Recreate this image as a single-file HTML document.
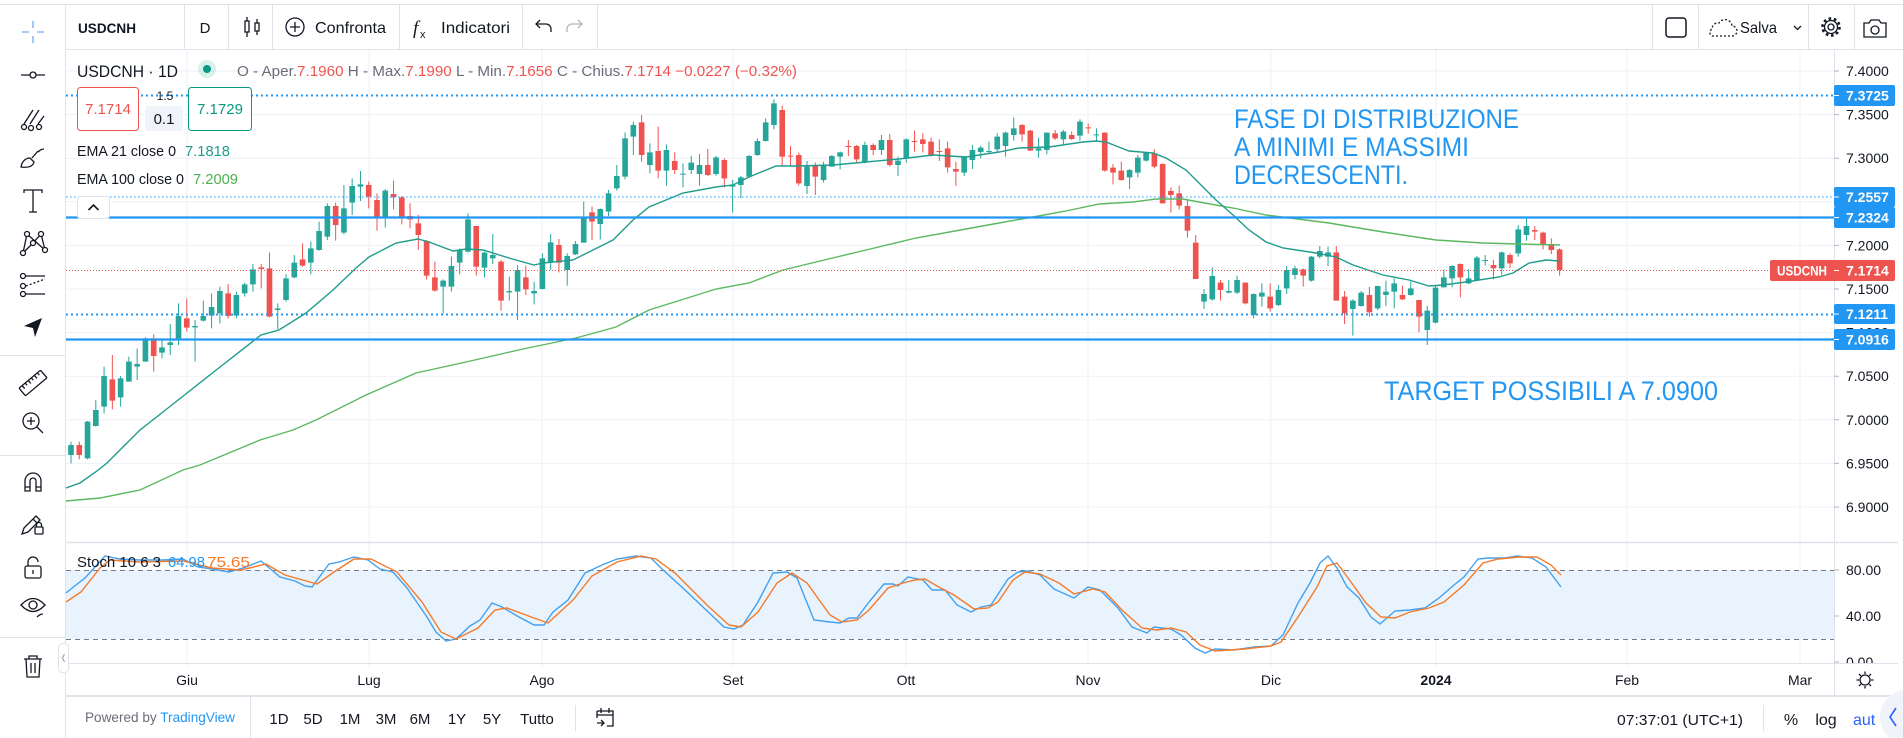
<!DOCTYPE html>
<html><head><meta charset="utf-8"><style>
html,body{margin:0;padding:0;background:#fff;overflow:hidden}
svg{display:block}
text{font-family:"Liberation Sans",sans-serif}
</style></head><body>
<svg width="1903" height="738" viewBox="0 0 1903 738" xmlns="http://www.w3.org/2000/svg">
<defs>
<clipPath id="mp"><rect x="66" y="50" width="1768" height="492"/></clipPath>
<clipPath id="sp"><rect x="66" y="543" width="1768" height="120"/></clipPath>
<clipPath id="sa"><rect x="1835" y="543" width="68" height="120"/></clipPath>
</defs>
<rect width="1903" height="738" fill="#fff"/>

<!-- stoch band -->
<rect x="66" y="570" width="1768" height="69" fill="#e8f3fd"/>

<!-- grid -->
<g stroke="#eef1f7" stroke-width="1" fill="none">
<path d="M66 71H1834M66 114.6H1834M66 158.2H1834M66 201.8H1834M66 245.4H1834M66 289H1834M66 332.6H1834M66 376.2H1834M66 419.8H1834M66 463.4H1834M66 507H1834M66 616.5H1834"/>
<path d="M187 50V667M369 50V667M542 50V667M733 50V667M906 50V667M1088 50V667M1271 50V667M1436 50V667M1627 50V667M1800 50V667"/>
</g>

<!-- stoch dashed levels -->
<path d="M66 570.5H1834M66 639.5H1834" stroke="#787b86" stroke-width="1" stroke-dasharray="5 4" fill="none"/>

<!-- candles -->
<g clip-path="url(#mp)">
<g transform="translate(71,90) scale(8.27,0.333333)">
<path fill="#26a69a" d="M-.34 1065h.68V1095h-.68zM1.66 995h.68V1105h-.68zM2.66 960h.68V1008h-.68zM3.66 858h.68V950h-.68zM5.66 865h.68V922h-.68zM6.66 815h.68V875h-.68zM7.66 822h.68V830h-.68zM8.66 745h.68V815h-.68zM10.66 772h.68V788h-.68zM11.66 757h.68V765h-.68zM12.66 678h.68V745h-.68zM14.66 708h.68V712h-.68zM15.66 678h.68V692h-.68zM16.66 651h.68V677h-.68zM17.66 603h.68V670h-.68zM19.66 615h.68V677h-.68zM20.66 583h.68V610h-.68zM21.66 538h.68V583h-.68zM24.66 655h.68V660h-.68zM25.66 565h.68V630h-.68zM26.66 518h.68V562h-.68zM28.66 475h.68V518h-.68zM29.66 423h.68V480h-.68zM30.66 348h.68V440h-.68zM32.66 355h.68V428h-.68zM33.66 288h.68V338h-.68zM34.66 283h.68V290h-.68zM37.66 302h.68V385h-.68zM44.66 572h.68V590h-.68zM45.66 528h.68V590h-.68zM46.66 480h.68V518h-.68zM47.66 388h.68V485h-.68zM49.66 488h.68V533h-.68zM50.66 495h.68V505h-.68zM52.66 603h.68V607h-.68zM53.66 540h.68V605h-.68zM55.66 603h.68V610h-.68zM56.66 505h.68V597h-.68zM57.66 457h.68V518h-.68zM59.66 498h.68V540h-.68zM60.66 462h.68V493h-.68zM61.66 380h.68V458h-.68zM63.66 357h.68V402h-.68zM64.66 310h.68V365h-.68zM65.66 258h.68V295h-.68zM66.66 145h.68V260h-.68zM67.66 105h.68V140h-.68zM69.66 187h.68V225h-.68zM71.66 180h.68V242h-.68zM73.66 251h.68V254h-.68zM74.66 218h.68V240h-.68zM75.66 225h.68V252h-.68zM77.66 202h.68V252h-.68zM79.66 285h.68V290h-.68zM80.66 262h.68V285h-.68zM81.66 198h.68V260h-.68zM82.66 153h.68V195h-.68zM83.66 97h.68V153h-.68zM84.66 40h.68V105h-.68zM88.66 230h.68V288h-.68zM90.66 228h.68V270h-.68zM91.66 198h.68V230h-.68zM92.66 187h.68V200h-.68zM95.66 165h.68V215h-.68zM97.66 150h.68V180h-.68zM99.66 212h.68V225h-.68zM100.66 148h.68V205h-.68zM107.66 202h.68V248h-.68zM108.66 180h.68V210h-.68zM109.66 173h.68V186h-.68zM110.66 183h.68V186h-.68zM111.66 140h.68V178h-.68zM112.66 128h.68V168h-.68zM113.66 115h.68V135h-.68zM116.66 175h.68V182h-.68zM117.66 128h.68V180h-.68zM119.66 125h.68V148h-.68zM121.66 95h.68V137h-.68zM123.66 133h.68V136h-.68zM127.66 240h.68V262h-.68zM128.66 203h.68V248h-.68zM129.66 187h.68V212h-.68zM136.66 612h.68V635h-.68zM137.66 558h.68V628h-.68zM139.66 603h.68V608h-.68zM140.66 570h.68V608h-.68zM142.66 612h.68V675h-.68zM143.66 608h.68V620h-.68zM145.66 600h.68V645h-.68zM146.66 540h.68V595h-.68zM147.66 535h.68V555h-.68zM149.66 500h.68V572h-.68zM150.66 483h.68V500h-.68zM151.66 487h.68V500h-.68zM154.66 632h.68V657h-.68zM155.66 608h.68V648h-.68zM157.66 588h.68V655h-.68zM158.66 605h.68V615h-.68zM159.66 580h.68V605h-.68zM161.66 595h.68V615h-.68zM163.66 662h.68V720h-.68zM164.66 593h.68V698h-.68zM165.66 562h.68V592h-.68zM166.66 528h.68V565h-.68zM168.66 565h.68V580h-.68zM169.66 503h.68V570h-.68zM170.66 510h.68V513h-.68zM172.66 487h.68V535h-.68zM174.66 418h.68V490h-.68zM175.66 408h.68V435h-.68z"/>
<path fill="none" stroke="#26a69a" stroke-width="1" vector-effect="non-scaling-stroke" d="M0 1055V1120M2 993V1108M3 930V1010M4 830V970M6 858V950M7 800V875M8 775V870M9 742V815M11 748V805M12 702V795M13 640V765M15 690V815M16 632V695M17 610V715M18 590V700M20 605V685M21 578V620M22 522V605M25 640V718M26 552V635M27 495V565M29 455V553M30 395V482M31 340V450M33 285V433M34 265V375M35 243V333M38 297V413M45 568V670M46 500V605M47 475V553M48 370V487M50 485V562M51 432V522M53 560V632M54 525V690M56 575V643M57 490V598M58 432V540M60 490V587M61 453V495M62 335V458M64 355V448M65 300V378M66 225V302M67 127V268M68 95V195M70 160V250M72 163V287M74 220V292M75 198V252M76 192V287M78 198V257M80 270V368M81 258V325M82 195V263M83 145V198M84 85V155M85 28V118M89 213V312M91 215V278M92 195V230M93 185V238M96 155V220M98 135V195M100 200V258M101 145V218M108 198V258M109 165V237M110 167V205M111 155V190M112 130V185M113 125V200M114 82V152M117 143V203M118 127V193M120 120V165M122 88V152M124 115V152M128 237V297M129 195V262M130 185V215M137 597V657M138 532V632M140 570V610M141 557V612M143 610V685M144 580V650M146 585V648M147 528V612M148 527V568M150 498V575M151 468V505M152 470V528M155 628V737M156 603V650M158 587V660M159 572V648M160 565V655M162 575V617M164 648V765M165 588V700M166 538V592M167 525V592M169 538V582M170 498V572M171 495V527M173 485V555M175 405V500M176 382V452"/>
<path fill="#ef5350" d="M.66 1065h.68V1095h-.68zM4.66 868h.68V932h-.68zM9.66 745h.68V798h-.68zM13.66 685h.68V713h-.68zM18.66 610h.68V678h-.68zM22.66 532h.68V537h-.68zM23.66 535h.68V680h-.68zM27.66 508h.68V527h-.68zM31.66 348h.68V405h-.68zM35.66 285h.68V320h-.68zM36.66 330h.68V383h-.68zM38.66 312h.68V322h-.68zM39.66 322h.68V383h-.68zM40.66 378h.68V388h-.68zM41.66 400h.68V435h-.68zM42.66 453h.68V557h-.68zM43.66 562h.68V602h-.68zM48.66 408h.68V530h-.68zM51.66 515h.68V632h-.68zM54.66 562h.68V598h-.68zM58.66 465h.68V518h-.68zM62.66 367h.68V395h-.68zM68.66 97h.68V195h-.68zM70.66 183h.68V242h-.68zM72.66 213h.68V240h-.68zM76.66 225h.68V255h-.68zM78.66 210h.68V265h-.68zM85.66 60h.68V200h-.68zM86.66 197h.68V200h-.68zM87.66 195h.68V280h-.68zM89.66 225h.68V260h-.68zM93.66 168h.68V171h-.68zM94.66 168h.68V208h-.68zM96.66 165h.68V180h-.68zM98.66 150h.68V225h-.68zM101.66 153h.68V156h-.68zM102.66 148h.68V162h-.68zM103.66 155h.68V197h-.68zM104.66 183h.68V186h-.68zM105.66 175h.68V232h-.68zM106.66 237h.68V245h-.68zM114.66 105h.68V133h-.68zM115.66 122h.68V182h-.68zM118.66 130h.68V145h-.68zM120.66 135h.68V147h-.68zM122.66 112h.68V115h-.68zM124.66 128h.68V242h-.68zM125.66 233h.68V248h-.68zM126.66 242h.68V270h-.68zM130.66 190h.68V230h-.68zM131.66 222h.68V340h-.68zM132.66 303h.68V315h-.68zM133.66 310h.68V347h-.68zM134.66 348h.68V422h-.68zM135.66 458h.68V567h-.68zM138.66 578h.68V600h-.68zM141.66 578h.68V640h-.68zM144.66 620h.68V655h-.68zM148.66 538h.68V557h-.68zM152.66 487h.68V632h-.68zM153.66 620h.68V670h-.68zM156.66 615h.68V667h-.68zM160.66 615h.68V628h-.68zM162.66 630h.68V680h-.68zM167.66 522h.68V562h-.68zM171.66 525h.68V535h-.68zM173.66 495h.68V520h-.68zM176.66 420h.68V425h-.68zM177.66 428h.68V462h-.68zM178.66 462h.68V480h-.68zM179.66 478h.68V540h-.68z"/>
<path fill="none" stroke="#ef5350" stroke-width="1" vector-effect="non-scaling-stroke" d="M1 1055V1108M5 795V958M10 733V845M14 625V725M19 582V686M23 522V595M24 487V682M28 460V530M32 338V452M36 275V355M37 310V422M39 272V358M40 318V403M41 340V415M42 375V480M43 450V568M44 515V605M49 408V557M52 510V662M55 527V615M59 447V547M63 350V450M69 75V215M71 110V265M73 187V252M77 177V258M79 205V292M86 47V228M87 168V228M88 188V287M90 218V315M94 150V198M95 165V220M97 160V195M99 132V230M102 122V185M103 130V187M104 143V200M105 148V213M106 155V248M107 215V288M115 102V155M116 120V183M119 120V150M121 125V150M123 100V130M125 127V245M126 222V283M127 215V272M131 178V235M132 220V340M133 292V368M134 287V358M135 330V443M136 435V567M139 570V632M142 577V643M145 580V665M149 535V590M153 468V632M154 603V702M157 590V680M161 587V630M163 630V727M168 520V622M172 510V568M174 490V535M177 408V450M178 425V478M179 445V492M180 475V557"/>
</g>

<!-- EMAs -->
<polyline fill="none" stroke="#5cb860" stroke-width="1.4" points="66,501 100,498 140,490 183,470 200,465 260,440 293,430 316,420 366,395 416,373 466,362 523,349 576,338 616,327 649,310 716,289 749,283 783,270 816,262 866,250 916,238 966,229 999,223 1033,217 1066,211 1099,204 1133,202 1156,199 1183,199 1199,202 1233,208 1266,215 1329,223 1383,232 1436,240 1483,243 1519,244 1560,245"/>
<polyline fill="none" stroke="#1f9c8c" stroke-width="1.4" points="66,488 80,483 97,471 107,463 140,430 149,423 187,393 220,367 261,335 279,330 306,313 333,290 356,268 369,257 396,243 418,239 429,242 453,251 466,249 483,250 509,258 534,265 543,263 573,260 593,250 613,240 633,220 649,207 683,193 716,187 733,185 749,177 776,166 799,166 833,165 866,162 899,159 933,155 966,157 999,152 1019,148 1049,147 1083,142 1096,141 1106,142 1129,151 1153,153 1166,158 1186,170 1199,183 1216,200 1233,215 1249,230 1266,242 1283,248 1316,253 1336,257 1353,265 1383,275 1409,280 1429,286 1443,285 1466,282 1499,277 1513,273 1529,263 1546,260 1560,261"/>

<!-- horizontal drawings -->
<path d="M66 270.5H1834" stroke="#ef5350" stroke-width="1" stroke-dasharray="1 2" fill="none"/>
<path d="M66 95.5H1834M66 314.5H1834" stroke="#2196f3" stroke-width="2" stroke-dasharray="2 3" fill="none"/>
<path d="M66 197H1834" stroke="#2196f3" stroke-width="1" stroke-dasharray="1.5 2.5" fill="none"/>
<path d="M66 217.5H1834M66 339.5H1834" stroke="#2196f3" stroke-width="2.2" fill="none"/>
</g>

<!-- annotations -->
<g fill="#2196f3" font-size="27">
<text x="1234" y="128" textLength="285" lengthAdjust="spacingAndGlyphs">FASE DI DISTRIBUZIONE</text>
<text x="1234" y="156" textLength="235" lengthAdjust="spacingAndGlyphs">A MINIMI E MASSIMI</text>
<text x="1234" y="184" textLength="174" lengthAdjust="spacingAndGlyphs">DECRESCENTI.</text>
<text x="1384" y="400" textLength="334" lengthAdjust="spacingAndGlyphs">TARGET POSSIBILI A 7.0900</text>
</g>

<!-- stoch lines -->
<g clip-path="url(#sp)" fill="none" stroke-width="1.4">
<polyline stroke="#42a0ee" points="66,593 76,585 85,578 105,556 120,559 139,560 163,560 183,559 198,567 212,569 229,572 246,567 261,561 280,577 295,581 305,586 312,587 329,564 339,562 354,557 368,560 380,569 393,572 407,588 427,617 436,632 446,641 456,639 470,626 480,620 492,603 502,607 519,617 534,625 544,625 553,612 568,600 585,573 602,565 617,559 636,556 651,558 661,568 685,590 704,608 724,627 734,629 743,625 758,602 773,573 787,572 797,578 814,620 830,622 840,623 849,618 857,618 869,602 884,584 893,584 898,586 908,577 923,580 932,590 945,590 957,605 971,612 981,607 991,605 1008,579 1018,572 1027,571 1040,575 1054,589 1074,598 1088,587 1100,590 1118,608 1132,627 1147,633 1154,627 1171,629 1181,635 1195,648 1205,653 1215,649 1234,650 1254,647 1271,646 1283,635 1298,603 1310,583 1320,563 1328,556 1337,568 1347,587 1359,598 1371,617 1380,624 1395,611 1410,610 1425,608 1439,598 1454,585 1464,577 1478,559 1488,558 1505,558 1517,556 1532,558 1546,567 1561,587"/>
<polyline stroke="#f57a2a" points="66,602 81,592 100,568 110,560 139,562 183,561 212,568 241,570 266,564 285,575 317,584 334,572 354,559 371,559 397,572 422,602 441,632 456,639 478,628 495,610 507,608 534,618 548,623 573,600 592,576 617,562 641,556 656,559 675,573 709,607 729,625 741,627 758,612 777,583 792,573 807,583 830,615 842,622 857,620 869,610 888,588 903,583 915,580 925,579 937,586 954,595 974,609 988,608 998,602 1013,580 1025,572 1040,574 1059,583 1074,594 1093,589 1105,592 1122,610 1142,628 1157,630 1171,628 1186,632 1200,645 1215,651 1244,649 1271,646 1281,642 1298,617 1317,587 1327,566 1337,563 1351,582 1366,603 1381,617 1395,618 1410,612 1429,608 1444,602 1464,585 1483,563 1498,559 1520,557 1537,557 1551,565 1561,575"/>
</g>

<!-- stoch legend -->
<text x="77" y="567" font-size="15" fill="#131722" textLength="84" lengthAdjust="spacingAndGlyphs">Stoch 10 6 3</text>
<text x="168" y="567" font-size="15" fill="#2196f3" textLength="37" lengthAdjust="spacingAndGlyphs">64.98</text>
<text x="207" y="567" font-size="15" fill="#f57a2a" textLength="43" lengthAdjust="spacingAndGlyphs">75.65</text>

<!-- frame lines -->
<g stroke="#e0e3eb" fill="none">
<path d="M0 4.5H1903" stroke-width="1"/>
<path d="M65.5 4V738" stroke-width="1"/>
<path d="M66 49.5H1903" stroke-width="1"/>
<path d="M184.5 5V49M228.5 5V49M272.5 5V49M399.5 5V49M522.5 5V49M597.5 5V49M1652.5 5V49M1698.5 5V49M1808.5 5V49M1854.5 5V49" stroke-width="1"/>
<path d="M1834.5 50V695" stroke-width="1"/>
<path d="M66 542.5H1898" stroke-width="1.5"/>
<path d="M66 663.5H1898" stroke-width="1"/>
<path d="M66 696H1903" stroke-width="2"/>
<path d="M0 355.5H65M0 455.5H65M0 637.5H65" stroke-width="1"/>
<path d="M250.5 697V738M575.5 705V731M1763.5 705V731" stroke-width="1"/>
</g>

<!-- price axis -->
<path d="M1834 71h5M1834 114.6h5M1834 158.2h5M1834 201.8h5M1834 245.4h5M1834 289h5M1834 332.6h5M1834 376.2h5M1834 419.8h5M1834 463.4h5M1834 507h5M1834 570h5M1834 616h5M1834 662h5" stroke="#b2b5be" stroke-width="1"/>
<g font-size="14" fill="#131722">
<text x="1846" y="76">7.4000</text>
<text x="1846" y="119.6">7.3500</text>
<text x="1846" y="163.2">7.3000</text>
<text x="1846" y="206.8">7.2500</text>
<text x="1846" y="250.4">7.2000</text>
<text x="1846" y="294">7.1500</text>
<text x="1846" y="337.6">7.1000</text>
<text x="1846" y="381.2">7.0500</text>
<text x="1846" y="424.8">7.0000</text>
<text x="1846" y="468.4">6.9500</text>
<text x="1846" y="512">6.9000</text>
<text x="1846" y="575">80.00</text>
<text x="1846" y="621">40.00</text>
<g clip-path="url(#sa)"><text x="1846" y="667">0.00</text></g>
</g>
<!-- axis labels -->
<g fill="#2196f3">
<rect x="1834" y="85" width="61" height="21" rx="2"/>
<rect x="1834" y="187" width="61" height="20" rx="2"/>
<rect x="1834" y="207" width="61" height="21" rx="2"/>
<rect x="1834" y="304" width="61" height="20" rx="2"/>
<rect x="1834" y="329" width="61" height="21" rx="2"/>
</g>
<rect x="1770" y="260" width="125" height="21" rx="2" fill="#ef5350"/>
<path d="M1834 95.5h5M1834 197h5M1834 217.5h5M1834 314h5M1834 339.5h5M1834 270.5h5" stroke="#fff" stroke-width="1"/>
<g font-size="14" font-weight="bold" fill="#fff">
<text x="1846" y="100.5">7.3725</text>
<text x="1846" y="202">7.2557</text>
<text x="1846" y="222.5">7.2324</text>
<text x="1846" y="319">7.1211</text>
<text x="1846" y="344.5">7.0916</text>
<text x="1846" y="275.5">7.1714</text>
<text x="1777" y="275.5" textLength="50" lengthAdjust="spacingAndGlyphs">USDCNH</text>
</g>

<!-- time axis -->
<g font-size="14" fill="#131722" text-anchor="middle">
<text x="187" y="685">Giu</text>
<text x="369" y="685">Lug</text>
<text x="542" y="685">Ago</text>
<text x="733" y="685">Set</text>
<text x="906" y="685">Ott</text>
<text x="1088" y="685">Nov</text>
<text x="1271" y="685">Dic</text>
<text x="1436" y="685" font-weight="bold">2024</text>
<text x="1627" y="685">Feb</text>
<text x="1800" y="685">Mar</text>
</g>
<!-- time axis settings icon -->
<g stroke="#131722" stroke-width="1.3" fill="none">
<circle cx="1865" cy="680" r="5"/>
<path d="M1865 671.5v2.5M1865 686v2.5M1856.5 680h2.5M1871 680h2.5M1859 674l1.8 1.8M1869.2 684.2l1.8 1.8M1871 674l-1.8 1.8M1860.8 684.2l-1.8 1.8"/>
</g>

<!-- legend -->
<text x="77" y="77" font-size="17" fill="#131722" textLength="101" lengthAdjust="spacingAndGlyphs">USDCNH · 1D</text>
<circle cx="207" cy="69" r="9" fill="#089981" fill-opacity="0.15"/>
<circle cx="207" cy="69" r="4" fill="#089981"/>
<text x="237" y="76" font-size="14.5" fill="#6a6d78" textLength="560" lengthAdjust="spacingAndGlyphs">O - Aper.<tspan fill="#ef5350">7.1960</tspan> H - Max.<tspan fill="#ef5350">7.1990</tspan> L - Min.<tspan fill="#ef5350">7.1656</tspan> C - Chius.<tspan fill="#ef5350">7.1714 −0.0227 (−0.32%)</tspan></text>

<rect x="77.5" y="87.5" width="61" height="43" rx="3" fill="#fff" stroke="#ef5350"/>
<text x="108" y="114" font-size="15" fill="#ef5350" text-anchor="middle">7.1714</text>
<text x="165" y="100" font-size="12" fill="#131722" text-anchor="middle">1.5</text>
<rect x="145" y="106" width="38" height="25" rx="3" fill="#f0f3fa"/>
<text x="164" y="124" font-size="15" fill="#131722" text-anchor="middle">0.1</text>
<rect x="188.5" y="87.5" width="63" height="43" rx="3" fill="#fff" stroke="#089981"/>
<text x="220" y="114" font-size="15" fill="#089981" text-anchor="middle">7.1729</text>

<text x="77" y="156" font-size="15" fill="#131722" textLength="99" lengthAdjust="spacingAndGlyphs">EMA 21 close 0</text>
<text x="185" y="156" font-size="15" fill="#1f9c8c" textLength="45" lengthAdjust="spacingAndGlyphs">7.1818</text>
<text x="77" y="184" font-size="15" fill="#131722" textLength="107" lengthAdjust="spacingAndGlyphs">EMA 100 close 0</text>
<text x="193" y="184" font-size="15" fill="#4caf50" textLength="45" lengthAdjust="spacingAndGlyphs">7.2009</text>
<rect x="77.5" y="196.5" width="32" height="22" rx="3" fill="#fff" stroke="#e0e3eb"/>
<path d="M88.5 210l5-5 5 5" stroke="#131722" stroke-width="1.6" fill="none"/>

<!-- top toolbar -->
<path d="M33 21v7M33 36v7M22 32h7M37 32h7" stroke="#8ab8f5" stroke-width="1.6" fill="none"/>
<text x="78" y="33" font-size="14" font-weight="bold" fill="#131722" textLength="58" lengthAdjust="spacingAndGlyphs">USDCNH</text>
<text x="205" y="33" font-size="15" fill="#131722" text-anchor="middle">D</text>
<g stroke="#131722" stroke-width="1.3" fill="none">
<path d="M247 17v20M257 19v16"/>
<rect x="245" y="21" width="4" height="11" fill="#fff"/>
<rect x="255" y="23" width="4" height="8" fill="#fff"/>
<circle cx="295" cy="27" r="9"/>
<path d="M290 27h10M295 22v10"/>
<path d="M536 24h10a5 5 0 0 1 5 5v3M540 20l-4 4 4 4"/>
<path d="M582 24h-10a5 5 0 0 0-5 5v3M578 20l4 4-4 4" stroke="#b2b5be"/>
<rect x="1666" y="18" width="20" height="19" rx="3" stroke-width="1.5"/>
<path d="M1712 36h20a5 5 0 0 0 0-10a7 7 0 0 0-13-3a6 6 0 0 0-7 6a4 4 0 0 0 0 7z" stroke-dasharray="2 2"/>
<path d="M1794 26l3.5 3.5 3.5-3.5"/>
<circle cx="1831" cy="27" r="8.5" stroke-width="2.6" stroke-dasharray="2.6 2.74"/>
<circle cx="1831" cy="27" r="6.5"/>
<circle cx="1831" cy="27" r="3"/>
<path d="M1864 23h5l2-3h8l2 3h5v14h-22z"/>
<circle cx="1875" cy="30" r="4"/>
</g>
<text x="315" y="33" font-size="16" fill="#131722" textLength="71" lengthAdjust="spacingAndGlyphs">Confronta</text>
<text x="413" y="34" font-size="19" font-style="italic" fill="#131722" style="font-family:'Liberation Serif',serif">f</text>
<text x="420" y="38" font-size="11" fill="#131722">x</text>
<text x="441" y="33" font-size="16" fill="#131722" textLength="69" lengthAdjust="spacingAndGlyphs">Indicatori</text>
<text x="1740" y="33" font-size="16" fill="#131722" textLength="37" lengthAdjust="spacingAndGlyphs">Salva</text>

<!-- left toolbar icons -->
<g stroke="#131722" stroke-width="1.3" fill="none">
<path d="M21 75h9M36 75h9"/><circle cx="33" cy="75" r="3"/>
<path d="M24 124L33 110M30 124L39 110M38 124L44 116"/>
<circle cx="24" cy="127" r="2.5"/><circle cx="31" cy="128" r="2.5"/><circle cx="39" cy="127" r="2.5"/>
<path d="M21 167c1-6 5-9 9-9l4 4c-1 4-5 6-13 5zM32 158l6-7M38 152c2-2 4-3 6-3"/>
<path d="M24 193v-3h18v3M33 190v22M29 212h8"/>
<path d="M27 234L23 253M27 234L45 250M41 234L33 243L23 253M41 234L45 250"/>
<circle cx="27" cy="234" r="2.5" fill="#fff"/><circle cx="41" cy="234" r="2.5" fill="#fff"/><circle cx="23" cy="253" r="2.5" fill="#fff"/><circle cx="45" cy="250" r="2.5" fill="#fff"/><circle cx="33" cy="243" r="2.5" fill="#fff"/>
<circle cx="23" cy="276" r="2.5"/><circle cx="23" cy="286" r="2.5"/><circle cx="23" cy="294" r="2.5"/>
<path d="M26 276H45M26 294H45"/>
<path d="M26 286L45 279" stroke-dasharray="2 2"/>
<g transform="rotate(-40 33 383)"><rect x="19" y="378" width="28" height="10" rx="1"/><path d="M23 378v4M27 378v3M31 378v4M35 378v3M39 378v4M43 378v3"/></g>
<circle cx="31" cy="421" r="8"/><path d="M37 427l6 6M27 421h8M31 417v8"/>
<path d="M25 491V481a8 8 0 0 1 16 0v10h-5v-10a3 3 0 0 0-6 0v10zM25 487h5M36 487h5"/>
<path d="M22 534l2-6 12-12 4 4-12 12zM33 519l4 4"/>
<rect x="35" y="527" width="8" height="7" rx="1"/><path d="M36.5 527v-2a2.5 2.5 0 0 1 5 0v2"/>
<rect x="25" y="566" width="16" height="12" rx="2"/><path d="M28 566v-4a5 5 0 0 1 10 0"/><path d="M33 570v4"/>
<path d="M21 605q12-13 24 0q-12 13-24 0z"/><circle cx="33" cy="605" r="4"/>
<path d="M37 617c2-2 4-3 6-3"/>
<path d="M24 659h18M29 659v-3h8v3M26 659l1 18h12l1-18M31 663v10M35 663v10"/>
</g>
<path d="M42 318L24 326L33 328L35 337z" fill="#131722"/>
<rect x="58.5" y="643.5" width="10" height="29" rx="4" fill="#fff" stroke="#e0e3eb"/>
<path d="M64.5 654l-2 4 2 4" stroke="#9598a1" stroke-width="1" fill="none"/>

<!-- bottom toolbar -->
<text x="85" y="722" font-size="14" fill="#6a6d78" textLength="150" lengthAdjust="spacingAndGlyphs">Powered by <tspan fill="#2196f3">TradingView</tspan></text>
<g font-size="15" fill="#131722" text-anchor="middle">
<text x="279" y="724">1D</text>
<text x="313" y="724">5D</text>
<text x="350" y="724">1M</text>
<text x="386" y="724">3M</text>
<text x="420" y="724">6M</text>
<text x="457" y="724">1Y</text>
<text x="492" y="724">5Y</text>
<text x="537" y="724">Tutto</text>
</g>
<g stroke="#131722" stroke-width="1.3" fill="none">
<path d="M597 711h16v15h-6M597 711v7M597 715h16M601 708v5M609 708v5M597 723h7M601 720l3 3-3 3"/>
</g>
<text x="1617" y="725" font-size="15" fill="#131722" textLength="126" lengthAdjust="spacingAndGlyphs">07:37:01 (UTC+1)</text>
<text x="1791" y="725" font-size="16" fill="#131722" text-anchor="middle">%</text>
<text x="1826" y="725" font-size="16" fill="#131722" text-anchor="middle">log</text>
<text x="1853" y="725" font-size="16" fill="#2962ff">aut</text>
<circle cx="1907" cy="717" r="27" fill="#f0f3fa"/>
<path d="M1896 708l-6 9 6 9" stroke="#2962ff" stroke-width="1.6" fill="none"/>
</svg>
</body></html>
